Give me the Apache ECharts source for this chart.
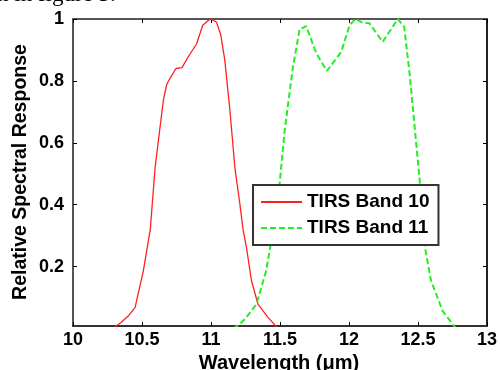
<!DOCTYPE html>
<html>
<head>
<meta charset="utf-8">
<script src="https://cdn.jsdelivr.net/npm/echarts@6/dist/echarts.min.js"></script>
<style>
  html, body { margin: 0; padding: 0; background: #fff; }
  #chart { width: 500px; height: 370px; }
</style>
</head>
<body>
<div id="chart"></div>
<script>
// TIRS band 10 (red, solid)
const band10Wl = [10.29, 10.35, 10.40, 10.45, 10.51, 10.56, 10.595, 10.625, 10.655, 10.68, 10.703, 10.746, 10.79, 10.835, 10.896, 10.94, 10.98, 11.0, 11.04, 11.07, 11.10, 11.137, 11.173, 11.209, 11.233, 11.257, 11.293, 11.34, 11.413, 11.486]
const band10Val = [0.0, 0.02, 0.04, 0.068, 0.187, 0.32, 0.52, 0.63, 0.738, 0.79, 0.808, 0.84, 0.843, 0.878, 0.92, 0.98, 0.995, 1.0, 0.99, 0.95, 0.867, 0.705, 0.52, 0.403, 0.317, 0.262, 0.155, 0.079, 0.036, 0.0]
// TIRS band 11 (green, dashed)
const band11Wl = [11.16, 11.209, 11.257, 11.33, 11.40, 11.45, 11.498, 11.534, 11.56, 11.594, 11.62, 11.642, 11.69, 11.763, 11.84, 11.944, 12.004, 12.047, 12.10, 12.148, 12.244, 12.353, 12.40, 12.44, 12.51, 12.546, 12.594, 12.678, 12.775]
const band11Val = [0.0, 0.014, 0.036, 0.079, 0.187, 0.317, 0.47, 0.64, 0.73, 0.845, 0.91, 0.967, 0.977, 0.889, 0.832, 0.894, 0.98, 1.0, 0.988, 0.986, 0.926, 1.0, 0.975, 0.82, 0.49, 0.273, 0.155, 0.057, 0.0]

const yTicks = [0.2, 0.4, 0.6, 0.8, 1]

const zip = (xs, ys) => xs.map((x, i) => [x, ys[i]])

const chart = echarts.init(document.getElementById('chart'))
const lblFont = { color: '#000', fontSize: 18, fontWeight: 'bold', fontFamily: 'Liberation Sans, Arial, sans-serif' }

chart.setOption({
  animation: false,
  grid: { left: 73, right: 12, top: 19, bottom: 44 },
  legend: {
    orient: 'vertical',
    left: 253,
    top: 185,
    padding: [6, 9, 6, 7],
    itemWidth: 41,
    itemHeight: 14,
    itemGap: 4,
    borderColor: '#333',
    borderWidth: 2,
    backgroundColor: '#fff',
    itemStyle: { opacity: 0 },
    textStyle: { color: '#000', fontSize: 19, fontWeight: 'bold', fontFamily: 'Liberation Sans, Arial, sans-serif', lineHeight: 22 },
    data: ['TIRS Band 10', 'TIRS Band 11'],
  },
  xAxis: [
    {
      type: 'value',
      position: 'bottom',
      min: 10,
      max: 13,
      interval: 0.5,
      splitLine: { show: false },
      axisLine: { lineStyle: { color: '#333', width: 2 } },
      axisTick: { inside: true, length: 4, lineStyle: { color: '#000' } },
      axisLabel: Object.assign({ margin: 5, showMaxLabel: true }, lblFont),
    },
    {
      type: 'value',
      position: 'top',
      min: 10,
      max: 13,
      interval: 0.5,
      splitLine: { show: false },
      axisLine: { lineStyle: { color: '#555', width: 2 } },
      axisTick: { inside: true, length: 4, lineStyle: { color: '#000' } },
      axisLabel: { show: false },
    },
  ],
  yAxis: [
    {
      type: 'value',
      position: 'left',
      min: 0.008,
      max: 1,
      splitLine: { show: false },
      axisLine: { show: true, lineStyle: { color: '#555', width: 2 } },
      axisTick: { show: true, inside: true, length: 4, customValues: yTicks, lineStyle: { color: '#000' } },
      axisLabel: Object.assign({ margin: 9, customValues: yTicks }, lblFont),
    },
    {
      type: 'value',
      position: 'right',
      min: 0.008,
      max: 1,
      splitLine: { show: false },
      axisLine: { show: true, lineStyle: { color: '#222', width: 2 } },
      axisTick: { show: true, inside: true, length: 4, customValues: yTicks, lineStyle: { color: '#000' } },
      axisLabel: { show: false },
    },
  ],
  series: [
    {
      name: 'TIRS Band 10',
      type: 'line',
      data: zip(band10Wl, band10Val),
      symbol: 'none',
      lineStyle: { color: '#ff2020', width: 1.3 },
      itemStyle: { color: '#ff2020' },
    },
    {
      name: 'TIRS Band 11',
      type: 'line',
      data: zip(band11Wl, band11Val),
      symbol: 'none',
      lineStyle: { color: '#22ee22', width: 2, type: [6, 3] },
      itemStyle: { color: '#22ee22' },
    },
  ],
  graphic: [
    {
      type: 'text',
      x: 21,
      y: 172,
      rotation: Math.PI / 2,
      style: {
        text: 'Relative Spectral Response',
        fill: '#000',
        font: 'bold 19.5px "Liberation Sans", Arial, sans-serif',
        textAlign: 'center',
        textVerticalAlign: 'middle',
      },
    },
    {
      type: 'text',
      x: 279,
      y: 363,
      style: {
        text: 'Wavelength (\u03bcm)',
        fill: '#000',
        font: 'bold 20px "Liberation Sans", Arial, sans-serif',
        textAlign: 'center',
        textVerticalAlign: 'middle',
      },
    },
    {
      type: 'text',
      x: -3,
      y: 6,
      style: {
        text: 'n in figure 5.',
        fill: '#000',
        font: '23px "Liberation Serif", "Times New Roman", serif',
        textAlign: 'left',
        textVerticalAlign: 'bottom',
      },
    },
  ],
})
</script>
</body>
</html>
